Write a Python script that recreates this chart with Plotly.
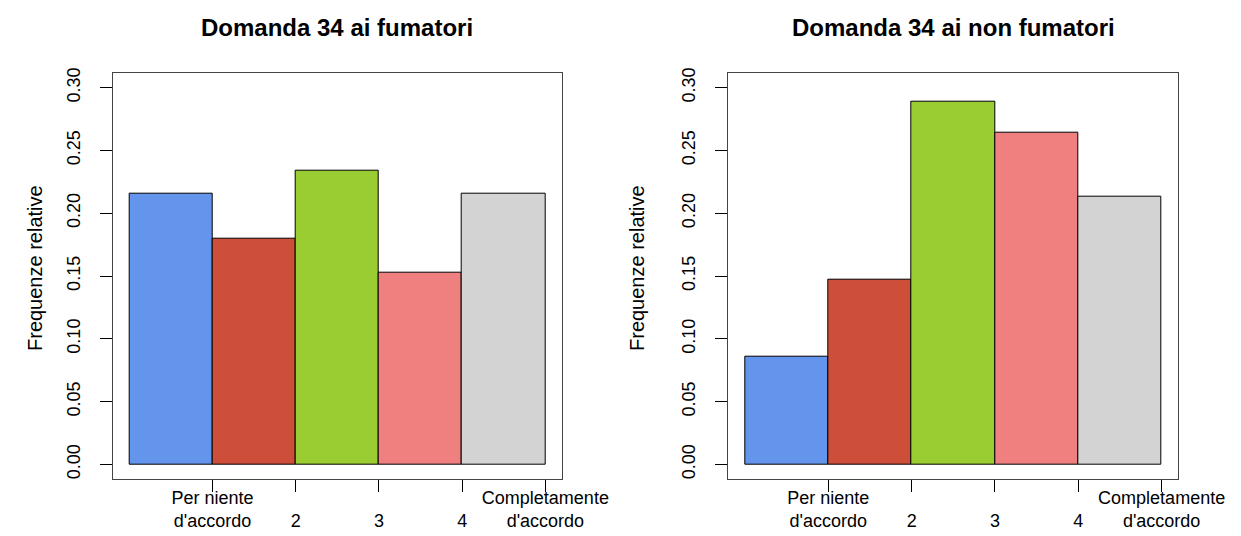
import plotly.graph_objects as go

W, H = 1241, 536

categories = ["Per niente<br>d'accordo", " <br>2", " <br>3", " <br>4", "Completamente<br>d'accordo"]
fumatori = [0.216, 0.180, 0.234, 0.153, 0.216]
non_fumatori = [0.086, 0.147, 0.289, 0.264, 0.213]
colors = ["#6495ED", "#CD4F39", "#9ACD32", "#F08080", "#D3D3D3"]
y_ticks = [0.00, 0.05, 0.10, 0.15, 0.20, 0.25, 0.30]
y_ticktext = ["0.00", "0.05", "0.10", "0.15", "0.20", "0.25", "0.30"]
titles = ["Domanda 34 ai fumatori", "Domanda 34 ai non fumatori"]
ylab = "Frequenze relative"

FONT = "Liberation Sans, Arial, sans-serif"

# plot boxes in pixels
boxes = [(112.7, 562.0), (728.3, 1178.3)]
y_top, y_bot = 72.7, 479.4

fig = go.Figure()
pos = [i + 0.5 for i in range(len(categories))]
ticks_at = [i + 1 for i in range(len(categories))]

for k, vals in enumerate([fumatori, non_fumatori]):
    xa = "x" if k == 0 else "x2"
    ya = "y" if k == 0 else "y2"
    fig.add_trace(go.Bar(
        x=pos, y=vals, width=1, xaxis=xa, yaxis=ya,
        marker=dict(color=colors, line=dict(color="black", width=1)),
        showlegend=False, hoverinfo="y",
    ))

axis_common_x = dict(
    range=[-0.2, 5.2], tickmode="array", tickvals=ticks_at, ticktext=categories,
    ticks="outside", ticklen=12, tickcolor="black", tickwidth=1,
    showline=True, mirror=True, linecolor="#444", linewidth=1,
    showgrid=False, zeroline=False, automargin=False,
    tickfont=dict(family=FONT, size=18, color="black"),
    ticklabelstandoff=-10,
    fixedrange=True,
)
axis_common_y = dict(
    range=[-0.012, 0.312], tickmode="array", tickvals=y_ticks, ticktext=y_ticktext,
    ticks="outside", ticklen=12, tickcolor="black", tickwidth=1,
    showline=True, mirror=True, linecolor="#444", linewidth=1,
    showgrid=False, zeroline=False, tickangle=-90, automargin=False,
    tickfont=dict(family=FONT, size=18, color="black"),
    ticklabelstandoff=13,
    fixedrange=True,
)

yd = [1 - y_bot / H, 1 - y_top / H]
fig.update_layout(
    width=W, height=H,
    margin=dict(l=0, r=0, t=0, b=0),
    paper_bgcolor="white", plot_bgcolor="white",
    bargap=0,
    xaxis=dict(domain=[boxes[0][0] / W, boxes[0][1] / W], anchor="y", **axis_common_x),
    yaxis=dict(domain=yd, anchor="x", **axis_common_y),
    xaxis2=dict(domain=[boxes[1][0] / W, boxes[1][1] / W], anchor="y2", **axis_common_x),
    yaxis2=dict(domain=yd, anchor="x2", **axis_common_y),
)

ann = []
for k, (x0, x1) in enumerate(boxes):
    ann.append(dict(
        text="<b>%s</b>" % titles[k], x=(x0 + x1) / 2 / W, y=1 - 27 / H,
        xref="paper", yref="paper", xanchor="center", yanchor="middle",
        showarrow=False, font=dict(family=FONT, size=24, color="black"),
    ))
    ylab_x = [35, 637][k]
    ann.append(dict(
        text=ylab, x=ylab_x / W, y=1 - 268 / H,
        xref="paper", yref="paper", xanchor="center", yanchor="middle",
        textangle=-90, showarrow=False, font=dict(family=FONT, size=20, color="black"),
    ))
fig.update_layout(annotations=ann)

fig.write_html(
    "out.html",
    config={"displayModeBar": False},
    post_script="document.body.style.margin='0';document.body.style.overflow='hidden';",
)
